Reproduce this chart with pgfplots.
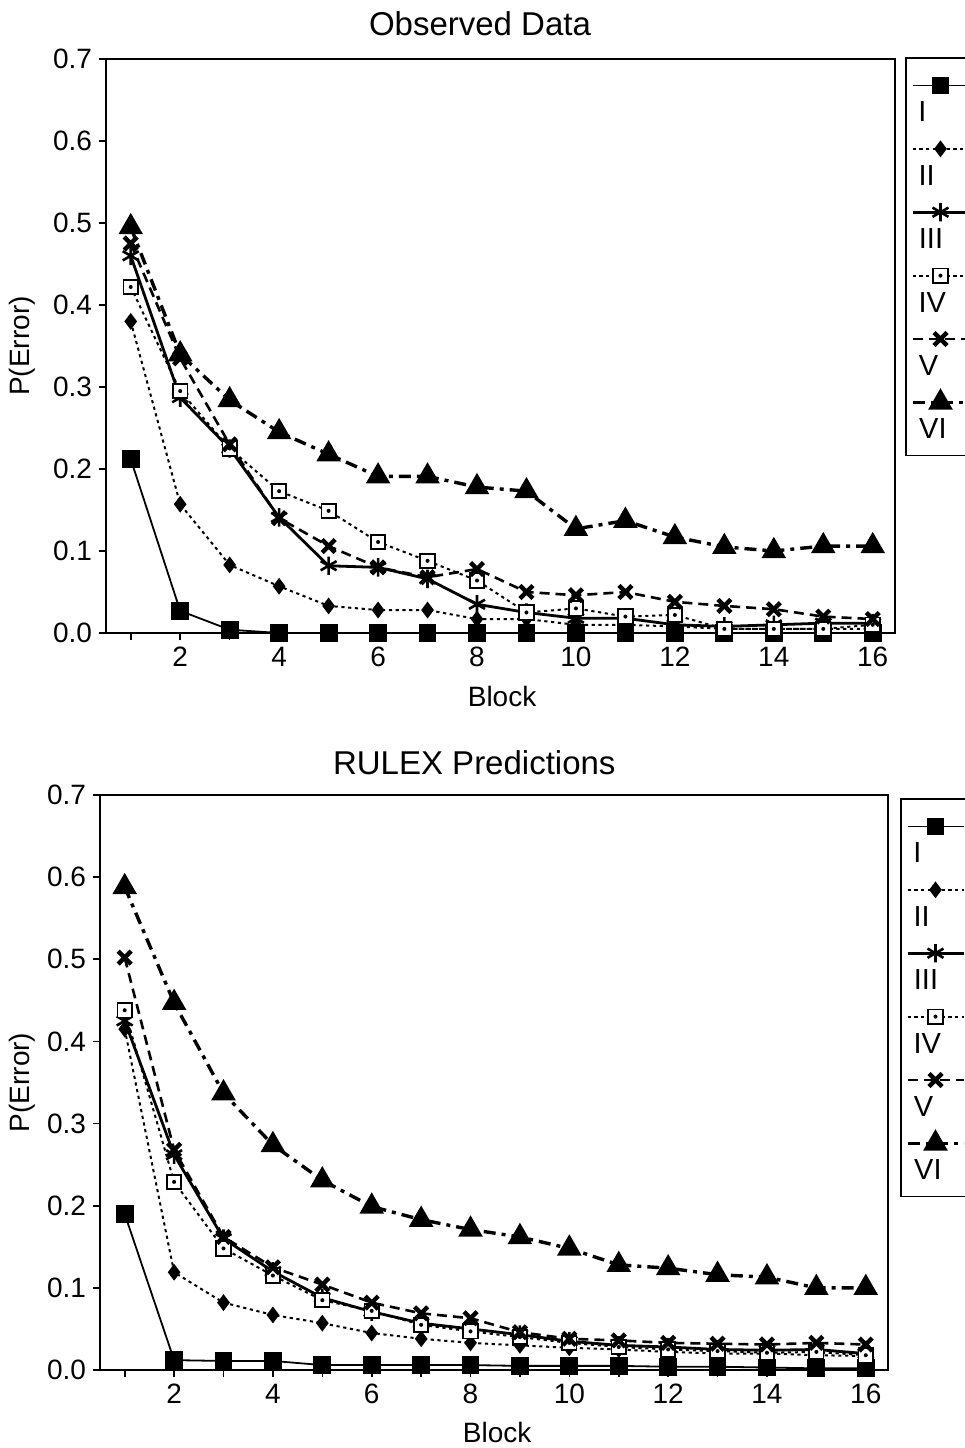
\documentclass[border=0pt]{standalone}
\usepackage{fontspec}
\setmainfont{Liberation Sans}
\usepackage{pgfplots}
\usepackage{pgfplotstable}
\pgfplotsset{compat=1.18}

\pgfdeclareplotmark{sqdot}{%
  \pgfpathrectangle{\pgfpoint{-\pgfplotmarksize}{-\pgfplotmarksize}}{\pgfpoint{2\pgfplotmarksize}{2\pgfplotmarksize}}%
  \pgfusepathqfillstroke
  \begin{pgfscope}\pgfsetfillcolor{black}\pgfpathcircle{\pgfpointorigin}{0.28\pgfplotmarksize}\pgfusepathqfill\end{pgfscope}%
}

\pgfplotstableread{
x    I     II    III   IV    V     VI
1  0.212 0.380 0.460 0.422 0.475 0.495
2  0.027 0.157 0.287 0.295 0.335 0.340
3  0.004 0.083 0.225 0.225 0.230 0.284
4  0.000 0.057 0.141 0.173 0.140 0.245
5  0.000 0.033 0.082 0.149 0.106 0.218
6  0.000 0.028 0.080 0.111 0.080 0.191
7  0.000 0.028 0.066 0.088 0.068 0.191
8  0.000 0.017 0.035 0.064 0.078 0.178
9  0.000 0.017 0.025 0.025 0.050 0.173
10 0.000 0.010 0.018 0.030 0.046 0.127
11 0.000 0.010 0.018 0.020 0.050 0.137
12 0.000 0.008 0.010 0.022 0.038 0.117
13 0.000 0.005 0.008 0.005 0.033 0.105
14 0.000 0.005 0.010 0.005 0.029 0.100
15 0.000 0.005 0.012 0.005 0.020 0.106
16 0.000 0.005 0.012 0.010 0.017 0.106
}\observed

\pgfplotstableread{
x    I     II    III   IV    V     VI
1  0.190 0.415 0.425 0.438 0.502 0.588
2  0.012 0.119 0.262 0.229 0.268 0.447
3  0.011 0.082 0.160 0.148 0.162 0.337
4  0.011 0.067 0.120 0.115 0.125 0.274
5  0.006 0.057 0.088 0.085 0.104 0.231
6  0.006 0.045 0.071 0.072 0.082 0.199
7  0.006 0.038 0.057 0.055 0.069 0.183
8  0.006 0.033 0.050 0.047 0.063 0.171
9  0.005 0.030 0.043 0.040 0.046 0.162
10 0.005 0.027 0.035 0.033 0.038 0.148
11 0.005 0.025 0.030 0.028 0.036 0.128
12 0.004 0.022 0.028 0.025 0.033 0.124
13 0.004 0.020 0.025 0.023 0.032 0.116
14 0.003 0.020 0.024 0.021 0.031 0.113
15 0.002 0.018 0.025 0.022 0.033 0.100
16 0.002 0.017 0.020 0.018 0.031 0.100
}\predicted

\pgfplotsset{
  leg/.style={legend image code/.code={%
    \draw[mark repeat=2,mark phase=2,##1] plot coordinates {(0pt,0pt) (14pt,0pt) (28pt,0pt)};
    \node[anchor=west, inner sep=0pt, draw=none, fill=none, solid, font=\fontsize{14.5}{16}\selectfont] at (2.5pt,-14pt) {#1};
    \path[draw=none, fill=none] (0pt,9.5pt) rectangle (30pt,-22.2pt);}},
  sI/.style={black, line width=0.9pt, solid, mark=square*, mark size=4pt, mark options={solid}},
  sII/.style={black, line width=1pt, dash pattern=on 1.6pt off 1.8pt, mark=diamond*, mark size=3.4pt, mark options={solid}},
  sIII/.style={black, line width=1.4pt, solid, mark=asterisk, mark size=4.6pt, mark options={solid, line width=1.3pt}},
  sIV/.style={black, line width=1pt, dash pattern=on 1.6pt off 1.8pt, mark=sqdot, mark size=3.6pt, mark options={solid, fill=white, line width=0.9pt}},
  sV/.style={black, line width=1.3pt, dash pattern=on 5pt off 3pt, mark=x, mark size=4.6pt, mark options={solid, line width=2.2pt}},
  sVI/.style={black, line width=1.7pt, dash pattern=on 6pt off 3pt on 2pt off 3pt, mark=triangle*, mark size=5.4pt, mark options={solid}},
  myaxis/.style={
    scale only axis, anchor=south west, clip=false,
    xmin=0.5, xmax=16.45, ymin=0, ymax=0.7,
    xtick={1,...,16},
    xticklabels={,2,,4,,6,,8,,10,,12,,14,,16},
    ytick={0,0.1,0.2,0.3,0.4,0.5,0.6,0.7},
    yticklabel style={/pgf/number format/.cd, fixed, fixed zerofill, precision=1},
    /pgf/number format/assume math mode=true,
    ticklabel style={font=\fontsize{14}{16}\selectfont},
    tick pos=left, tick align=outside, major tick length=3.5pt,
    every tick/.style={black, line width=0.8pt},
    axis line style={line width=0.8pt},
    label style={font=\fontsize{14}{16}\selectfont},
    legend cell align=left,
    legend style={at={(1,1)}, anchor=north west, draw=black, line width=0.8pt,
      inner xsep=2.5pt, inner ysep=4.3pt, row sep=0pt, nodes={inner sep=0pt}},
    ylabel={P(Error)},
    xlabel={Block},
  }
}

\begin{document}
\begin{tikzpicture}
\useasboundingbox (0,0) rectangle (482.5pt,724pt);

\begin{axis}[myaxis,
  at={(53pt,407.5pt)}, width=394.5pt, height=287pt,
  title={Observed Data},
  title style={at={(axis description cs:0.474,1)}, anchor=base, yshift=6pt, font=\fontsize{16.5}{19}\selectfont},
  xlabel style={at={(axis description cs:0.502,0)}, anchor=base, yshift=-37pt},
  ylabel style={at={(axis description cs:-0.1065,0.5)}, anchor=center},
  legend style={xshift=5pt, yshift=1pt},
]
\addplot[sI, leg=I] table[x=x, y=I] {\observed}; \addlegendentry{\mbox{}}
\addplot[sII, leg=II] table[x=x, y=II] {\observed}; \addlegendentry{\mbox{}}
\addplot[sIII, leg=III] table[x=x, y=III] {\observed}; \addlegendentry{\mbox{}}
\addplot[sIV, leg=IV] table[x=x, y=IV] {\observed}; \addlegendentry{\mbox{}}
\addplot[sV, leg=V] table[x=x, y=V] {\observed}; \addlegendentry{\mbox{}}
\addplot[sVI, leg=VI] table[x=x, y=VI] {\observed}; \addlegendentry{\mbox{}}
\end{axis}

\begin{axis}[myaxis,
  at={(50pt,39pt)}, width=394pt, height=287.5pt,
  title={RULEX Predictions},
  title style={at={(axis description cs:0.475,1)}, anchor=base, yshift=4.5pt, font=\fontsize{16.5}{19}\selectfont},
  xlabel style={at={(axis description cs:0.504,0)}, anchor=base, yshift=-36pt},
  ylabel style={at={(axis description cs:-0.099,0.5)}, anchor=center},
  legend style={xshift=6pt, yshift=-1.5pt},
]
\addplot[sI, leg=I] table[x=x, y=I] {\predicted}; \addlegendentry{\mbox{}}
\addplot[sII, leg=II] table[x=x, y=II] {\predicted}; \addlegendentry{\mbox{}}
\addplot[sIII, leg=III] table[x=x, y=III] {\predicted}; \addlegendentry{\mbox{}}
\addplot[sIV, leg=IV] table[x=x, y=IV] {\predicted}; \addlegendentry{\mbox{}}
\addplot[sV, leg=V] table[x=x, y=V] {\predicted}; \addlegendentry{\mbox{}}
\addplot[sVI, leg=VI] table[x=x, y=VI] {\predicted}; \addlegendentry{\mbox{}}
\end{axis}
\end{tikzpicture}
\end{document}
